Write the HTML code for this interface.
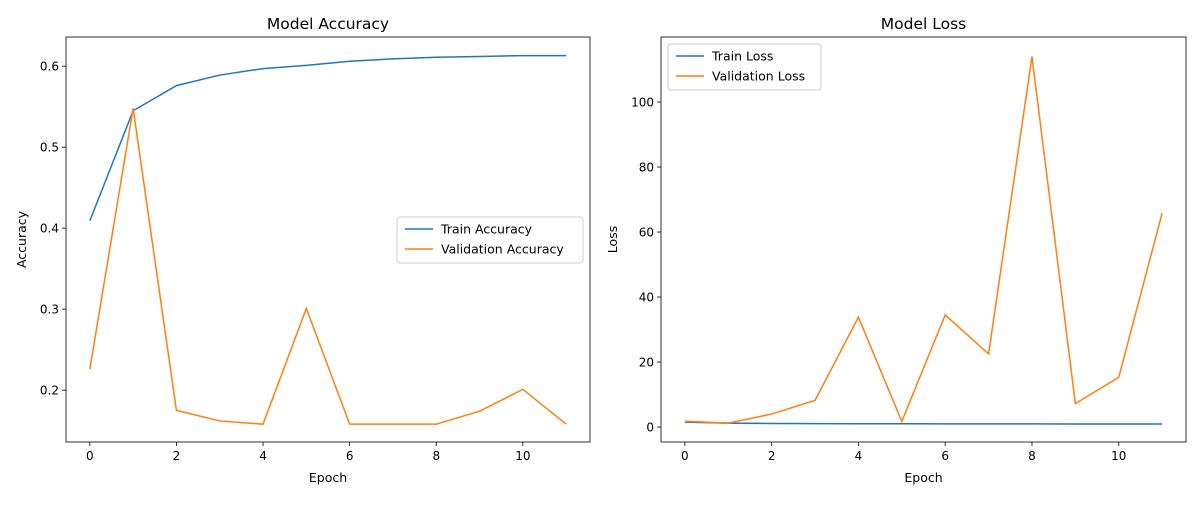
<!DOCTYPE html>
<html><head><meta charset="utf-8"><style>
body{margin:0;background:#fff}
svg text{font-family:"DejaVu Sans","Liberation Sans",sans-serif;fill:#000}
</style></head><body>
<svg id="chart" width="1200" height="500"></svg>
<script>
const epochs=[0,1,2,3,4,5,6,7,8,9,10,11];
const trainAcc=[0.409,0.545,0.576,0.589,0.597,0.601,0.606,0.609,0.611,0.612,0.613,0.613];
const valAcc=[0.226,0.548,0.175,0.162,0.158,0.301,0.158,0.158,0.158,0.174,0.201,0.158];
const trainLoss=[1.5,1.2,1.1,1.05,1.0,1.0,0.98,0.97,0.96,0.95,0.95,0.95];
const valLoss=[1.8,1.2,4.0,8.2,33.8,1.7,34.5,22.5,114,7.2,15.3,65.8];
const xTicks=[0,2,4,6,8,10];
const accTicks=[0.2,0.3,0.4,0.5,0.6];
const lossTicks=[0,20,40,60,80,100];
const NS="http://www.w3.org/2000/svg";
const svg=document.getElementById('chart');
function el(t,a,p){const e=document.createElementNS(NS,t);for(const k in a)e.setAttribute(k,a[k]);(p||svg).appendChild(e);return e;}
function panel(o){
  const g=el('g',{});
  
  
  const xs=v=>o.x0+(v-o.xmin)/(o.xmax-o.xmin)*(o.x1-o.x0);
  const ys=v=>o.y1-(v-o.ymin)/(o.ymax-o.ymin)*(o.y1-o.y0);
  xTicks.forEach(t=>{const x=xs(t);el('line',{x1:x,x2:x,y1:o.y1,y2:o.y1+4,stroke:'#000','stroke-width':0.8},g);
    const tx=el('text',{x:x,y:o.y1+18,'font-size':12,'text-anchor':'middle'},g);tx.textContent=t;
    });
  o.yt.forEach(t=>{const y=ys(t);el('line',{x1:o.x0-4,x2:o.x0,y1:y,y2:y,stroke:'#000','stroke-width':0.8},g);
    const tx=el('text',{x:o.x0-7,y:y+4.5,'font-size':12,'text-anchor':'end'},g);tx.textContent=o.fmt(t);
    });
  const series=[[o.a,'#1f77b4',o.la],[o.b,'#ff7f0e',o.lb]];
  series.forEach(s=>{const p=el('polyline',{points:epochs.map((e,i)=>xs(e)+','+ys(s[0][i])).join(' '),fill:'none',stroke:s[1],'stroke-width':1.5},g);
    });
  el('rect',{x:o.x0,y:o.y0,width:o.x1-o.x0,height:o.y1-o.y0,fill:'none',stroke:'#000','stroke-width':0.8},g);
  const ti=el('text',{x:(o.x0+o.x1)/2,y:29,'font-size':15.5,'text-anchor':'middle'},g);ti.textContent=o.title;
  
  const xl=el('text',{x:(o.x0+o.x1)/2,y:482,'font-size':12.5,'text-anchor':'middle'},g);xl.textContent='Epoch';
  
  const yl=el('text',{x:0,y:0,'font-size':12.5,'text-anchor':'middle',transform:`translate(${o.ylx},${(o.y0+o.y1)/2}) rotate(-90)`},g);yl.textContent=o.ylab;
  
  const lg=el('g',{},g);
  
  el('rect',{x:o.lx,y:o.ly,width:o.lw,height:46,rx:3,fill:'#fff','fill-opacity':0.8,stroke:'#ccc'},lg);
  series.forEach((s,i)=>{const y=o.ly+12+i*20;
    el('line',{x1:o.lx+8,x2:o.lx+36,y1:y,y2:y,stroke:s[1],'stroke-width':1.5},lg);
    const t=el('text',{x:o.lx+44,y:y+4.5,'font-size':12.5},lg);t.textContent=s[2];
    });
}
panel({name:'accuracy-chart',x0:66,x1:590,y0:37,y1:442,xmin:-0.55,xmax:11.55,ymin:0.136,ymax:0.636,yt:accTicks,fmt:v=>v.toFixed(1),
  a:trainAcc,b:valAcc,la:'Train Accuracy',lb:'Validation Accuracy',title:'Model Accuracy',ylab:'Accuracy',ylx:26,lx:397,ly:217,lw:186});
panel({name:'loss-chart',x0:661,x1:1186,y0:37,y1:442,xmin:-0.55,xmax:11.55,ymin:-4.6,ymax:120,yt:lossTicks,fmt:v=>v,
  a:trainLoss,b:valLoss,la:'Train Loss',lb:'Validation Loss',title:'Model Loss',ylab:'Loss',ylx:617,lx:668,ly:44,lw:153});
</script>
</body></html>
